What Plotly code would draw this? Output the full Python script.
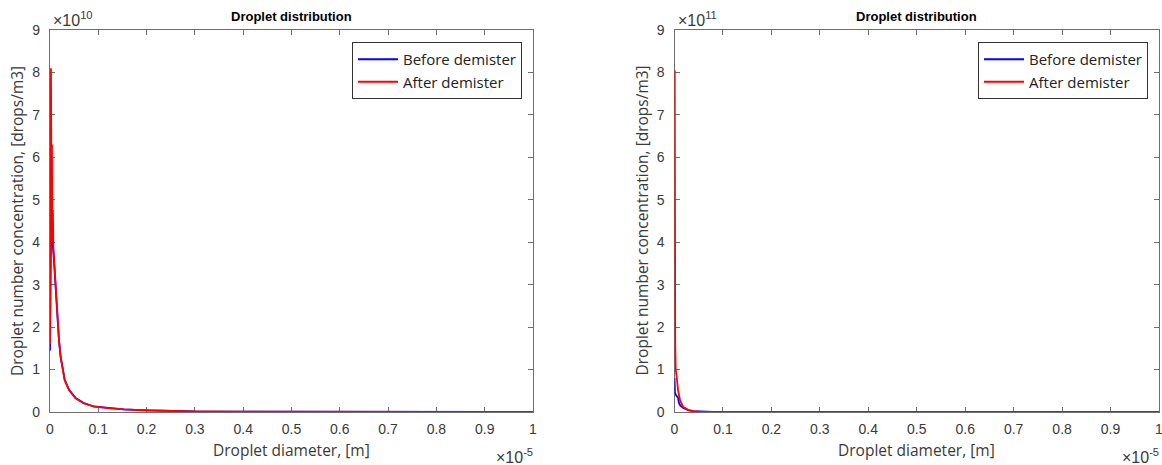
import plotly.graph_objects as go

# ---------------- data ----------------
# Droplet diameters are given in micrometres, concentrations in drops/m3.
# Left panel (scale 1e10)
left_before_d_um = [0.0, 0.01, 0.03, 0.04, 0.05, 0.08, 0.118, 0.138, 0.166, 0.186, 0.22,
                    0.255, 0.304, 0.393, 0.53, 0.70, 0.91, 1.26, 1.53, 1.9, 2.3, 2.6,
                    3.0, 4.0, 5.0, 6.0, 7.0, 8.0, 9.0, 10.0]
left_before_conc = [1.45e10, 3.0e10, 5.3e10, 4.6e10, 4.05e10, 3.6e10, 2.9e10, 2.45e10,
                    2.0e10, 1.68e10, 1.3e10, 1.08e10, 0.76e10, 0.53e10, 0.33e10, 0.21e10,
                    0.13e10, 0.09e10, 0.06e10, 0.045e10, 0.035e10, 0.015e10, 0.012e10,
                    0.008e10, 0.006e10, 0.005e10, 0.005e10, 0.005e10, 0.005e10, 0.005e10]

left_after_d_um = [0.0, 0.005, 0.02, 0.03, 0.04, 0.05, 0.06, 0.07, 0.08, 0.118, 0.138,
                   0.166, 0.186, 0.22, 0.255, 0.304, 0.393, 0.53, 0.70, 0.91, 1.26, 1.53,
                   2.0, 2.5, 3.0, 4.0, 5.0, 6.0, 7.0, 8.0, 9.0, 10.0]
left_after_conc = [1.6e10, 7.2e10, 8.1e10, 5.0e10, 6.3e10, 4.0e10, 4.76e10, 3.9e10, 3.7e10,
                   2.95e10, 2.48e10, 2.01e10, 1.70e10, 1.30e10, 1.07e10, 0.75e10, 0.52e10,
                   0.32e10, 0.205e10, 0.125e10, 0.087e10, 0.06e10, 0.035e10, 0.02e10,
                   0.015e10, 0.01e10, 0.005e10, 0.005e10, 0.005e10, 0.005e10, 0.005e10,
                   0.005e10]

# Right panel (scale 1e11)
right_before_d_um = [0.0, 0.01, 0.04, 0.075, 0.09, 0.12, 0.175, 0.28, 0.38, 0.53, 0.8,
                     2.0, 4.0, 6.0, 8.0, 10.0]
right_before_conc = [0.8e11, 0.45e11, 0.38e11, 0.33e11, 0.22e11, 0.15e11, 0.1e11,
                     0.045e11, 0.02e11, 0.008e11, 0.004e11, 0.002e11, 0.002e11,
                     0.002e11, 0.002e11, 0.002e11]

right_after_d_um = [0.0, 0.005, 0.015, 0.025, 0.045, 0.072, 0.114, 0.175, 0.279, 0.38,
                    0.526, 0.8, 1.2, 2.0, 3.0, 5.0, 7.0, 10.0]
right_after_conc = [3.5e11, 8.05e11, 1.65e11, 1.0e11, 0.83e11, 0.52e11, 0.28e11, 0.125e11,
                    0.05e11, 0.02e11, 0.008e11, 0.004e11, 0.003e11, 0.002e11, 0.002e11,
                    0.002e11, 0.002e11, 0.002e11]

x_tick_labels = ["0", "0.1", "0.2", "0.3", "0.4", "0.5", "0.6", "0.7", "0.8", "0.9", "1"]
y_tick_labels = ["0", "1", "2", "3", "4", "5", "6", "7", "8", "9"]

# ---------------- figure ----------------
W, H = 1162, 465
UM = 1e-6


def px_x(p):
    return p / W


def px_y(p):
    return 1 - p / H


def to_m(values):
    return [v * UM for v in values]


BLUE = "rgb(0,0,255)"
RED = "rgb(255,0,0)"
AXIS = "#6f6f6f"
TICKTXT = "#3a3a3a"
TICK_FONT = dict(family="Liberation Sans, Arial, sans-serif", size=14, color=TICKTXT)
LABEL_FONT = dict(family="Open Sans, sans-serif", size=15.5, color=TICKTXT)
LINE_W = 1.8

fig = go.Figure()

fig.add_trace(go.Scatter(x=to_m(left_before_d_um), y=left_before_conc, mode="lines",
                         name="Before demister", line=dict(color=BLUE, width=LINE_W),
                         xaxis="x", yaxis="y", legend="legend"))
fig.add_trace(go.Scatter(x=to_m(left_after_d_um), y=left_after_conc, mode="lines",
                         name="After demister", line=dict(color=RED, width=LINE_W),
                         xaxis="x", yaxis="y", legend="legend"))
fig.add_trace(go.Scatter(x=to_m(right_before_d_um), y=right_before_conc, mode="lines",
                         name="Before demister", line=dict(color=BLUE, width=LINE_W),
                         xaxis="x2", yaxis="y2", legend="legend2"))
fig.add_trace(go.Scatter(x=to_m(right_after_d_um), y=right_after_conc, mode="lines",
                         name="After demister", line=dict(color=RED, width=LINE_W),
                         xaxis="x2", yaxis="y2", legend="legend2"))

x_tickvals = [float(t) * 1e-5 for t in x_tick_labels]


def x_axis(domain, anchor):
    return dict(domain=domain, anchor=anchor, range=[0, 1e-5], automargin=False,
                tickmode="array", tickvals=x_tickvals, ticktext=x_tick_labels,
                ticks="inside", ticklen=5, tickwidth=1, tickcolor=AXIS,
                showline=True, linecolor=AXIS, linewidth=1.3, mirror="ticks",
                showgrid=False, zeroline=False, tickfont=TICK_FONT,
                ticklabelstandoff=4, ticklabeloverflow="allow",
                layer="below traces", fixedrange=True)


def y_axis(domain, anchor, scale):
    return dict(domain=domain, anchor=anchor, range=[0, 9 * scale], automargin=False,
                tickmode="array", tickvals=[float(t) * scale for t in y_tick_labels],
                ticktext=y_tick_labels,
                ticks="inside", ticklen=5, tickwidth=1, tickcolor=AXIS,
                showline=True, linecolor=AXIS, linewidth=1.3, mirror="ticks",
                showgrid=False, zeroline=False, tickfont=TICK_FONT,
                ticklabelstandoff=6, ticklabeloverflow="allow",
                layer="below traces", fixedrange=True)


L0, L1 = 50, 533
R0, R1 = 674.5, 1159
TOP, BOT = 30, 412
ydom = [px_y(BOT), px_y(TOP)]

legend_style = dict(font=dict(family="Open Sans, sans-serif", size=15, color="#222"),
                    bgcolor="white", bordercolor="#333", borderwidth=1,
                    xanchor="right", yanchor="top", tracegroupgap=0,
                    itemwidth=40)

fig.update_layout(
    width=W, height=H,
    margin=dict(l=0, r=0, t=0, b=0, autoexpand=False),
    paper_bgcolor="white", plot_bgcolor="white",
    xaxis=x_axis([px_x(L0), px_x(L1)], "y"),
    yaxis=y_axis(ydom, "x", 1e10),
    xaxis2=x_axis([px_x(R0), px_x(R1)], "y2"),
    yaxis2=y_axis(ydom, "x2", 1e11),
    legend=dict(x=px_x(522), y=px_y(42), **legend_style),
    legend2=dict(x=px_x(1148), y=px_y(42), **legend_style),
    showlegend=True,
)

annotations = []
for x0, x1, exp_y in [(L0, L1, "10"), (R0, R1, "11")]:
    cx = (x0 + x1) / 2
    annotations.append(dict(text="<b>Droplet distribution</b>", x=px_x(cx), y=px_y(16),
                            xref="paper", yref="paper", showarrow=False,
                            xanchor="center", yanchor="middle",
                            font=dict(family="Liberation Sans, Arial, sans-serif",
                                      size=13, color="black")))
    annotations.append(dict(text="Droplet diameter, [m]", x=px_x(cx), y=px_y(450),
                            xref="paper", yref="paper", showarrow=False,
                            xanchor="center", yanchor="middle", font=LABEL_FONT))
    annotations.append(dict(text="Droplet number concentration, [drops/m3]",
                            x=px_x(x0 - 33), y=px_y((TOP + BOT) / 2),
                            xref="paper", yref="paper", showarrow=False, textangle=-90,
                            xanchor="center", yanchor="middle", font=LABEL_FONT))
    annotations.append(dict(text="×10<sup>" + exp_y + "</sup>", x=px_x(x0 + 1), y=px_y(19),
                            xref="paper", yref="paper", showarrow=False,
                            xanchor="left", yanchor="middle",
                            font=dict(TICK_FONT, size=16)))
    annotations.append(dict(text="×10<sup>-5</sup>", x=px_x(x1 + 2), y=px_y(456),
                            xref="paper", yref="paper", showarrow=False,
                            xanchor="right", yanchor="middle",
                            font=dict(TICK_FONT, size=16)))

fig.update_layout(annotations=annotations)

fig.write_html("out.html")
